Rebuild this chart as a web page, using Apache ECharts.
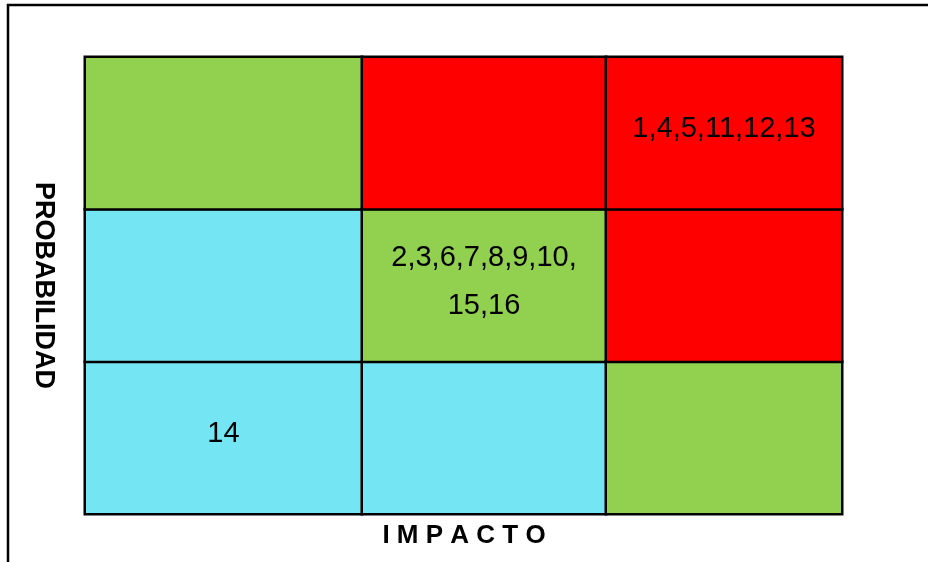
<!DOCTYPE html>
<html>
<head>
<meta charset="utf-8">
<script src="https://cdn.jsdelivr.net/npm/echarts@6/dist/echarts.min.js"></script>
<style>
  html, body { margin: 0; padding: 0; background: #fff; }
  #matriz { width: 928px; height: 562px; }
</style>
</head>
<body>
<div id="matriz"></div>
<script>
let impacto = ['Bajo', 'Medio', 'Alto'];
let probabilidad = ['Baja', 'Media', 'Alta'];

// riesgos por celda: [probabilidad][impacto]
let riesgos = [
    ['14', '', ''],
    ['', '2,3,6,7,8,9,10,\n15,16', ''],
    ['', '', '1,4,5,11,12,13']
];

let zonas = [
    ['cyan', 'cyan', 'green'],
    ['cyan', 'green', 'red'],
    ['green', 'red', 'red']
];

let zona_color = { green: '#92D050', red: '#FF0000', cyan: '#73E5F3' };

function drawMatriz(){
    let my_chart = echarts.init(document.getElementById('matriz'));

    // columnas de ancho distinto, una grid por columna de impacto
    let col_left = [85, 362, 606];
    let col_width = [277, 244, 236];

    let grids = [], x_axes = [], y_axes = [], series = [];

    impacto.forEach(function(imp, i){
        grids.push({ left: col_left[i], width: col_width[i], top: 57, height: 457 });
        x_axes.push({
            type: 'category', gridIndex: i, data: [imp],
            axisLine: { show: false }, axisTick: { show: false },
            axisLabel: { show: false }, splitLine: { show: false }
        });
        y_axes.push({
            type: 'category', gridIndex: i, data: probabilidad,
            axisLine: { show: false }, axisTick: { show: false },
            axisLabel: { show: false }, splitLine: { show: false },
            name: i === 0 ? 'PROBABILIDAD' : '',
            nameLocation: 'middle',
            nameRotate: -90,
            nameGap: 28,
            nameTextStyle: {
                fontFamily: 'Liberation Sans',
                fontWeight: 'bold',
                fontSize: 27,
                color: '#000'
            }
        });

        let data = probabilidad.map(function(p, j){
            return {
                name: riesgos[j][i],
                value: [0, j, 1],
                itemStyle: { color: zona_color[zonas[j][i]] }
            };
        });

        series.push({
            type: 'heatmap',
            xAxisIndex: i,
            yAxisIndex: i,
            data: data,
            itemStyle: { borderColor: '#000', borderWidth: 2.5 },
            label: {
                show: true,
                formatter: function(p){ return p.name; },
                fontFamily: 'Liberation Sans',
                fontSize: 29,
                lineHeight: 48,
                color: '#000',
                offset: [0, -4]
            },
            emphasis: { disabled: true }
        });
    });

    let option = {
        animation: false,
        title: {
            text: 'I M P A C T O',
            left: 'center',
            top: 518,
            textStyle: {
                fontFamily: 'Liberation Sans',
                fontWeight: 'bold',
                fontSize: 26,
                color: '#000'
            }
        },
        graphic: [
            {
                type: 'polyline',
                shape: { points: [[8, 562], [8, 5], [928, 5]] },
                style: { stroke: '#000', lineWidth: 2.5, fill: null }
            }
        ],
        grid: grids,
        xAxis: x_axes,
        yAxis: y_axes,
        series: series
    };

    my_chart.setOption(option);
}

drawMatriz();
</script>
</body>
</html>
